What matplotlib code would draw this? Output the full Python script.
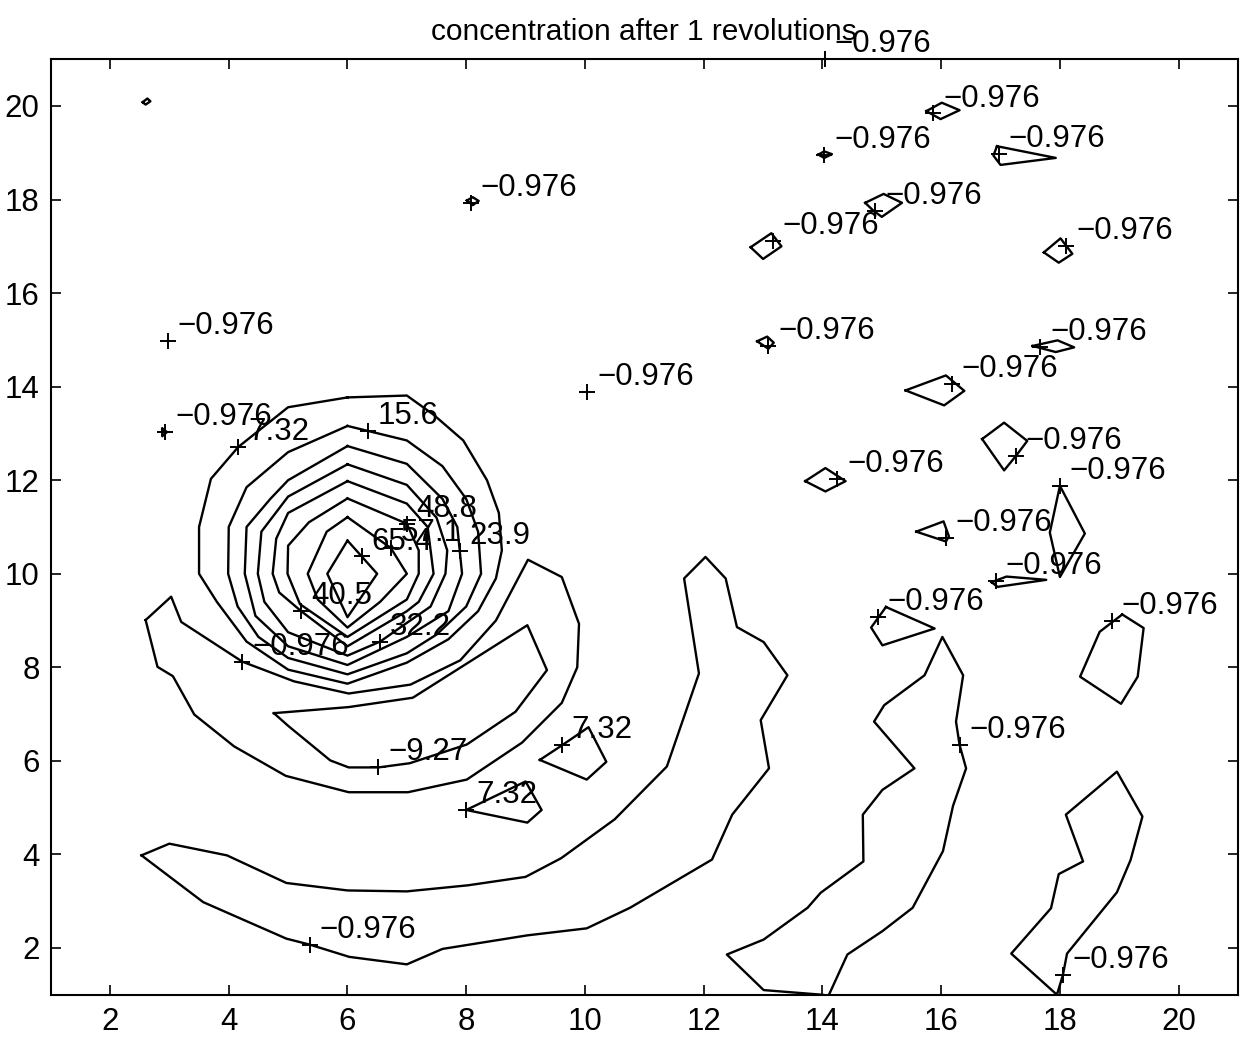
import matplotlib
matplotlib.use("Agg")
import matplotlib.pyplot as plt

plt.rcParams['font.family'] = ['Liberation Sans', 'DejaVu Sans']

# contour polylines (data coordinates)
ring_654 = [(6.0, 10.71), (6.5, 10.0), (6.0, 9.07), (5.66, 10.0), (6.0, 10.71)]
ring_571 = [(6.0, 11.21), (6.73, 10.55), (7.0, 10.0), (6.55, 9.4), (6.0, 8.85),
            (5.5, 9.45), (5.33, 10.0), (5.65, 10.9), (6.0, 11.21)]
ring_488 = [(6.0, 11.61), (7.0, 11.07), (7.2, 10.5), (7.2, 10.0), (7.0, 9.45), (6.0, 8.65),
            (5.2, 9.35), (4.99, 10.0), (5.0, 10.6), (5.35, 11.1), (6.0, 11.61)]
ring_405 = [(6.0, 11.98), (7.0, 11.5), (7.35, 11.0), (7.45, 10.0), (7.2, 9.4), (7.0, 9.2),
            (6.0, 8.45), (5.22, 9.2), (4.85, 9.6), (4.74, 10.0), (4.8, 10.75), (5.0, 11.3),
            (6.0, 11.98)]
ring_322 = [(6.0, 12.34), (7.0, 11.9), (7.5, 11.2), (7.68, 10.5), (7.65, 10.0), (7.4, 9.3),
            (7.0, 8.95), (6.55, 8.55), (6.0, 8.25), (5.0, 8.75), (4.6, 9.4), (4.49, 10.0),
            (4.55, 10.9), (5.0, 11.65), (6.0, 12.34)]
ring_239 = [(6.0, 12.73), (7.0, 12.35), (7.6, 11.6), (7.85, 11.0), (7.93, 10.0), (7.7, 9.2),
            (7.0, 8.65), (6.0, 8.05), (5.0, 8.45), (4.45, 9.1), (4.27, 10.0), (4.3, 11.0),
            (4.7, 11.6), (5.0, 12.0), (6.0, 12.73)]
ring_156 = [(6.0, 13.16), (7.0, 12.85), (7.6, 12.3), (8.0, 11.6), (8.2, 10.9), (8.25, 10.0),
            (8.0, 9.3), (7.5, 8.7), (7.0, 8.3), (6.0, 7.85), (5.0, 8.2), (4.5, 8.65),
            (4.15, 9.3), (3.99, 10.0), (4.0, 11.0), (4.3, 11.85), (5.0, 12.6), (6.0, 13.16)]
ring_732 = [(6.0, 13.77), (7.0, 13.81), (7.45, 13.4), (7.95, 12.85), (8.35, 12.0), (8.55, 11.3),
            (8.6, 10.5), (8.5, 9.9), (8.2, 9.2), (7.7, 8.6), (7.0, 8.1), (6.0, 7.65),
            (5.0, 7.95), (4.3, 8.55), (3.8, 9.4), (3.5, 10.0), (3.5, 11.0), (3.7, 12.03),
            (4.16, 12.71), (5.0, 13.56), (6.0, 13.77)]

wake_outer = [(2.6, 9.01), (3.03, 9.51), (3.2, 8.97), (4.23, 8.12), (5.1, 7.7), (6.02, 7.44),
              (7.06, 7.63), (7.9, 8.15), (8.5, 9.0), (9.04, 10.3), (9.61, 9.93), (9.9, 8.93),
              (9.87, 8.0), (9.61, 7.24), (8.94, 6.39), (8.01, 5.6), (7.02, 5.33), (6.02, 5.33),
              (4.96, 5.68), (4.09, 6.31), (3.42, 6.99), (3.06, 7.81), (2.8, 8.01), (2.6, 9.01)]
wake_inner = [(4.76, 7.02), (6.02, 7.15), (7.1, 7.35), (9.03, 8.9), (9.36, 7.94), (8.83, 7.05),
              (8.01, 6.35), (7.05, 5.95), (6.52, 5.86), (6.02, 5.86), (5.71, 6.01), (5.0, 6.75),
              (4.76, 7.02)]
band_low = [(2.53, 3.98), (3.0, 4.23), (3.97, 3.98), (4.97, 3.39), (6.0, 3.23), (7.0, 3.21),
            (8.03, 3.34), (9.0, 3.52), (9.6, 3.92), (10.5, 4.75), (11.38, 5.88), (11.92, 7.87),
            (11.67, 9.9), (12.03, 10.36), (12.37, 9.9), (12.56, 8.86), (13.01, 8.54),
            (13.41, 7.83), (12.96, 6.87), (13.1, 5.84), (12.48, 4.85), (12.14, 3.89),
            (10.76, 2.86), (10.03, 2.42), (9.03, 2.27), (7.6, 1.98), (7.0, 1.65), (6.03, 1.81),
            (5.37, 2.07), (4.97, 2.2), (3.57, 2.98), (2.53, 3.98)]
streak_mid = [(14.0, 1.0), (13.01, 1.1), (12.39, 1.86), (13.01, 2.18), (13.75, 2.86),
              (13.97, 3.18), (14.69, 3.85), (14.68, 4.85), (15.01, 5.38), (15.55, 5.84),
              (14.87, 6.84), (15.04, 7.19), (15.72, 7.83), (16.02, 8.65), (16.37, 7.83),
              (16.25, 6.84), (16.31, 6.34), (16.42, 5.84), (16.2, 5.04), (16.03, 4.07),
              (15.52, 2.86), (15.01, 2.36), (14.42, 1.86), (14.11, 1.0)]
streak_right = [(17.95, 1.0), (17.18, 1.88), (17.85, 2.85), (17.98, 3.58), (18.39, 3.85),
                (18.1, 4.85), (18.96, 5.77), (19.39, 4.81), (19.19, 3.88), (18.96, 3.19),
                (18.12, 1.88), (18.05, 1.42), (17.95, 1.0)]

spot_732_a = [(9.24, 6.02), (9.61, 6.33), (10.06, 6.72), (10.36, 5.98), (10.03, 5.6), (9.24, 6.02)]
spot_732_b = [(8.0, 4.95), (9.0, 5.56), (9.27, 4.95), (9.03, 4.68), (8.0, 4.95)]

# small -0.976 islands
isle_01 = [(15.75, 19.89), (16.01, 20.07), (16.31, 19.91), (15.99, 19.72), (15.75, 19.89)]
isle_02 = [(13.93, 18.96), (14.03, 19.03), (14.16, 18.97), (14.03, 18.89), (13.93, 18.96)]
isle_03 = [(16.94, 19.14), (17.93, 18.89), (17.0, 18.74), (16.88, 18.94), (16.94, 19.14)]
isle_04 = [(14.72, 17.93), (15.03, 18.12), (15.34, 17.93), (15.0, 17.63), (14.86, 17.76),
           (14.72, 17.93)]
isle_05 = [(12.79, 16.98), (13.14, 17.28), (13.31, 17.0), (13.0, 16.73), (12.79, 16.98)]
isle_06 = [(17.73, 16.87), (18.01, 17.17), (18.21, 16.84), (17.98, 16.65), (17.73, 16.87)]
isle_07 = [(12.9, 14.97), (13.07, 15.07), (13.18, 14.94), (13.09, 14.81), (12.9, 14.97)]
isle_08 = [(17.54, 14.87), (17.96, 14.99), (18.24, 14.84), (17.93, 14.74), (17.54, 14.87)]
isle_09 = [(15.4, 13.92), (16.08, 14.24), (16.39, 13.91), (16.05, 13.6), (15.4, 13.92)]
isle_10 = [(16.69, 12.88), (17.06, 13.23), (17.45, 12.84), (17.26, 12.52), (17.06, 12.21),
           (16.69, 12.88)]
isle_11 = [(13.71, 11.98), (14.05, 12.26), (14.39, 11.98), (14.05, 11.76), (13.71, 11.98)]
isle_12 = [(18.0, 11.88), (18.42, 10.86), (18.0, 9.93), (17.83, 10.88), (18.0, 11.88)]
isle_13 = [(15.58, 10.9), (16.04, 11.12), (16.13, 10.8), (16.08, 10.69), (15.58, 10.9)]
isle_14 = [(16.85, 9.82), (17.1, 9.94), (17.77, 9.87), (16.95, 9.72), (16.85, 9.82)]
isle_15 = [(15.07, 9.29), (15.89, 8.83), (15.01, 8.47), (14.82, 8.85), (15.07, 9.29)]
isle_16 = [(19.05, 9.13), (19.41, 8.84), (19.31, 7.8), (19.03, 7.22), (18.34, 7.8), (18.67, 8.76),
           (19.05, 9.13)]
isle_17 = [(8.01, 17.98), (8.11, 18.05), (8.21, 17.97), (8.11, 17.88), (8.01, 17.98)]
isle_18 = [(2.88, 13.1), (2.96, 13.03), (2.88, 12.94), (2.88, 13.1)]
isle_19 = [(2.55, 20.08), (2.63, 20.16), (2.68, 20.1), (2.6, 20.03), (2.55, 20.08)]

contours = [ring_654, ring_571, ring_488, ring_405, ring_322, ring_239, ring_156, ring_732,
            wake_outer, wake_inner, band_low, streak_mid, streak_right, spot_732_a, spot_732_b,
            isle_01, isle_02, isle_03, isle_04, isle_05, isle_06, isle_07, isle_08, isle_09,
            isle_10, isle_11, isle_12, isle_13, isle_14, isle_15, isle_16, isle_17, isle_18,
            isle_19]

# clabel positions and texts
label_x = [14.04, 15.87, 14.03, 16.97, 14.89, 13.17, 18.11, 8.08, 2.98, 13.09, 17.67, 10.04,
           16.18, 2.93, 4.16, 6.35, 17.26, 14.25, 18.0, 7.0, 6.73, 6.24, 7.89, 5.22, 6.55,
           16.08, 16.92, 14.93, 18.87, 4.23, 6.52, 9.61, 8.0, 5.37, 16.31, 18.05]
label_y = [21.0, 19.84, 18.96, 18.98, 17.76, 17.12, 17.0, 17.93, 14.98, 14.86, 14.85, 13.88,
           14.05, 13.03, 12.71, 13.05, 12.52, 12.02, 11.88, 11.07, 10.55, 10.37, 10.48, 9.2, 8.55,
           10.76, 9.84, 9.08, 8.99, 8.12, 5.86, 6.33, 4.95, 2.07, 6.34, 1.42]
label_text = ["\u22120.976"] * 14 + ["7.32", "15.6"] + ["\u22120.976"] * 3 + \
             ["48.8", "57.1", "65.4", "23.9", "40.5", "32.2"] + ["\u22120.976"] * 5 + \
             ["\u22129.27", "7.32", "7.32", "\u22120.976", "\u22120.976", "\u22120.976"]

fig = plt.figure(figsize=(12.41, 10.48), dpi=100)
ax = fig.add_axes([0.0408, 0.0508, 0.9568, 0.8927])

for c in contours:
    xs = [p[0] for p in c]
    ys = [p[1] for p in c]
    ax.plot(xs, ys, color='black', lw=1.7)

ax.plot(label_x, label_y, linestyle='none', marker='+', color='black', ms=11, mew=1.4,
        clip_on=False)
for x, y, s in zip(label_x, label_y, label_text):
    ax.annotate(s, (x, y), xytext=(7, 5), textcoords='offset points', fontsize=22.5,
                ha='left', va='baseline', annotation_clip=False)

ax.set_xlim(1, 21)
ax.set_ylim(1, 21)
ax.set_xticks(range(2, 21, 2))
ax.set_yticks(range(2, 21, 2))
ax.tick_params(direction='in', length=7, width=1.2, top=True, right=True, labelsize=22.5)
ax.tick_params(axis='x', pad=9)
ax.tick_params(axis='y', pad=8)
for sp in ax.spines.values():
    sp.set_linewidth(1.5)

ax.set_title('concentration after 1 revolutions', fontsize=21.5, pad=14)

fig.savefig('out.png', dpi=100)
